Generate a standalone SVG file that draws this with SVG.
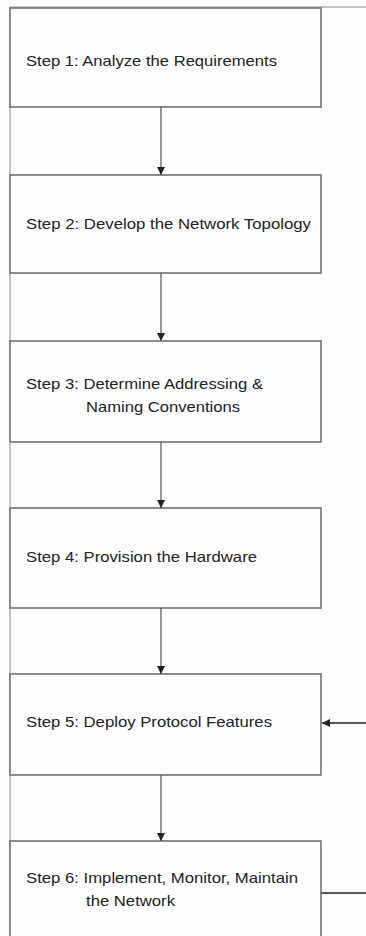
<svg xmlns="http://www.w3.org/2000/svg" width="366" height="936" viewBox="0 0 366 936">
  <style>
    .frame { stroke: #8c8c8c; stroke-width: 1; fill: none; }
    .box { fill: #fdfdfd; stroke: #707070; stroke-width: 1.6; }
    .lbl { font-family: "Liberation Sans", Arial, sans-serif; font-size: 15px; fill: #222; }
    .flow { stroke: #555; stroke-width: 1.2; fill: none; }
    .loop { stroke: #555; stroke-width: 2; fill: none; }
  </style>
  <defs>
    <marker id="head" viewBox="0 0 10 10" refX="10" refY="5" markerWidth="8" markerHeight="8" markerUnits="userSpaceOnUse" orient="auto">
      <path d="M0,0 L10,5 L0,10 Z" fill="#222"/>
    </marker>
  </defs>

  <rect width="366" height="936" fill="#fdfdfd"/>

  <!-- page frame -->
  <line class="frame" x1="10" y1="7" x2="10" y2="936"/>
  <line class="frame" x1="10" y1="7" x2="366" y2="7"/>

  <g id="step1">
    <rect class="box" x="10" y="8" width="311" height="99"/>
    <text class="lbl" x="26" y="66" textLength="251" lengthAdjust="spacingAndGlyphs">Step 1: Analyze the Requirements</text>
  </g>

  <g id="step2">
    <rect class="box" x="10" y="175" width="311" height="98"/>
    <text class="lbl" x="26" y="229" textLength="285" lengthAdjust="spacingAndGlyphs">Step 2: Develop the Network Topology</text>
  </g>

  <g id="step3">
    <rect class="box" x="10" y="341" width="311" height="101"/>
    <text class="lbl" x="26" y="389" textLength="237" lengthAdjust="spacingAndGlyphs">Step 3: Determine Addressing &amp;</text>
    <text class="lbl" x="86" y="412" textLength="154" lengthAdjust="spacingAndGlyphs">Naming Conventions</text>
  </g>

  <g id="step4">
    <rect class="box" x="10" y="508" width="311" height="100"/>
    <text class="lbl" x="26" y="562" textLength="231" lengthAdjust="spacingAndGlyphs">Step 4: Provision the Hardware</text>
  </g>

  <g id="step5">
    <rect class="box" x="10" y="674" width="311" height="101"/>
    <text class="lbl" x="26" y="727" textLength="246" lengthAdjust="spacingAndGlyphs">Step 5: Deploy Protocol Features</text>
  </g>

  <g id="step6">
    <rect class="box" x="10" y="841" width="311" height="120"/>
    <text class="lbl" x="26" y="883" textLength="272" lengthAdjust="spacingAndGlyphs">Step 6: Implement, Monitor, Maintain</text>
    <text class="lbl" x="86" y="906" textLength="89" lengthAdjust="spacingAndGlyphs">the Network</text>
  </g>

  <g id="connectors">
    <line class="flow" x1="161" y1="107" x2="161" y2="175" marker-end="url(#head)"/>
    <line class="flow" x1="161" y1="273" x2="161" y2="341" marker-end="url(#head)"/>
    <line class="flow" x1="161" y1="442" x2="161" y2="508" marker-end="url(#head)"/>
    <line class="flow" x1="161" y1="608" x2="161" y2="674" marker-end="url(#head)"/>
    <line class="flow" x1="161" y1="775" x2="161" y2="841" marker-end="url(#head)"/>
    <!-- feedback loop from step 6 back into step 5 (runs off the right edge) -->
    <line class="loop" x1="321" y1="893" x2="366" y2="893"/>
    <line class="loop" x1="366" y1="723" x2="322" y2="723" marker-end="url(#head)"/>
  </g>
</svg>
